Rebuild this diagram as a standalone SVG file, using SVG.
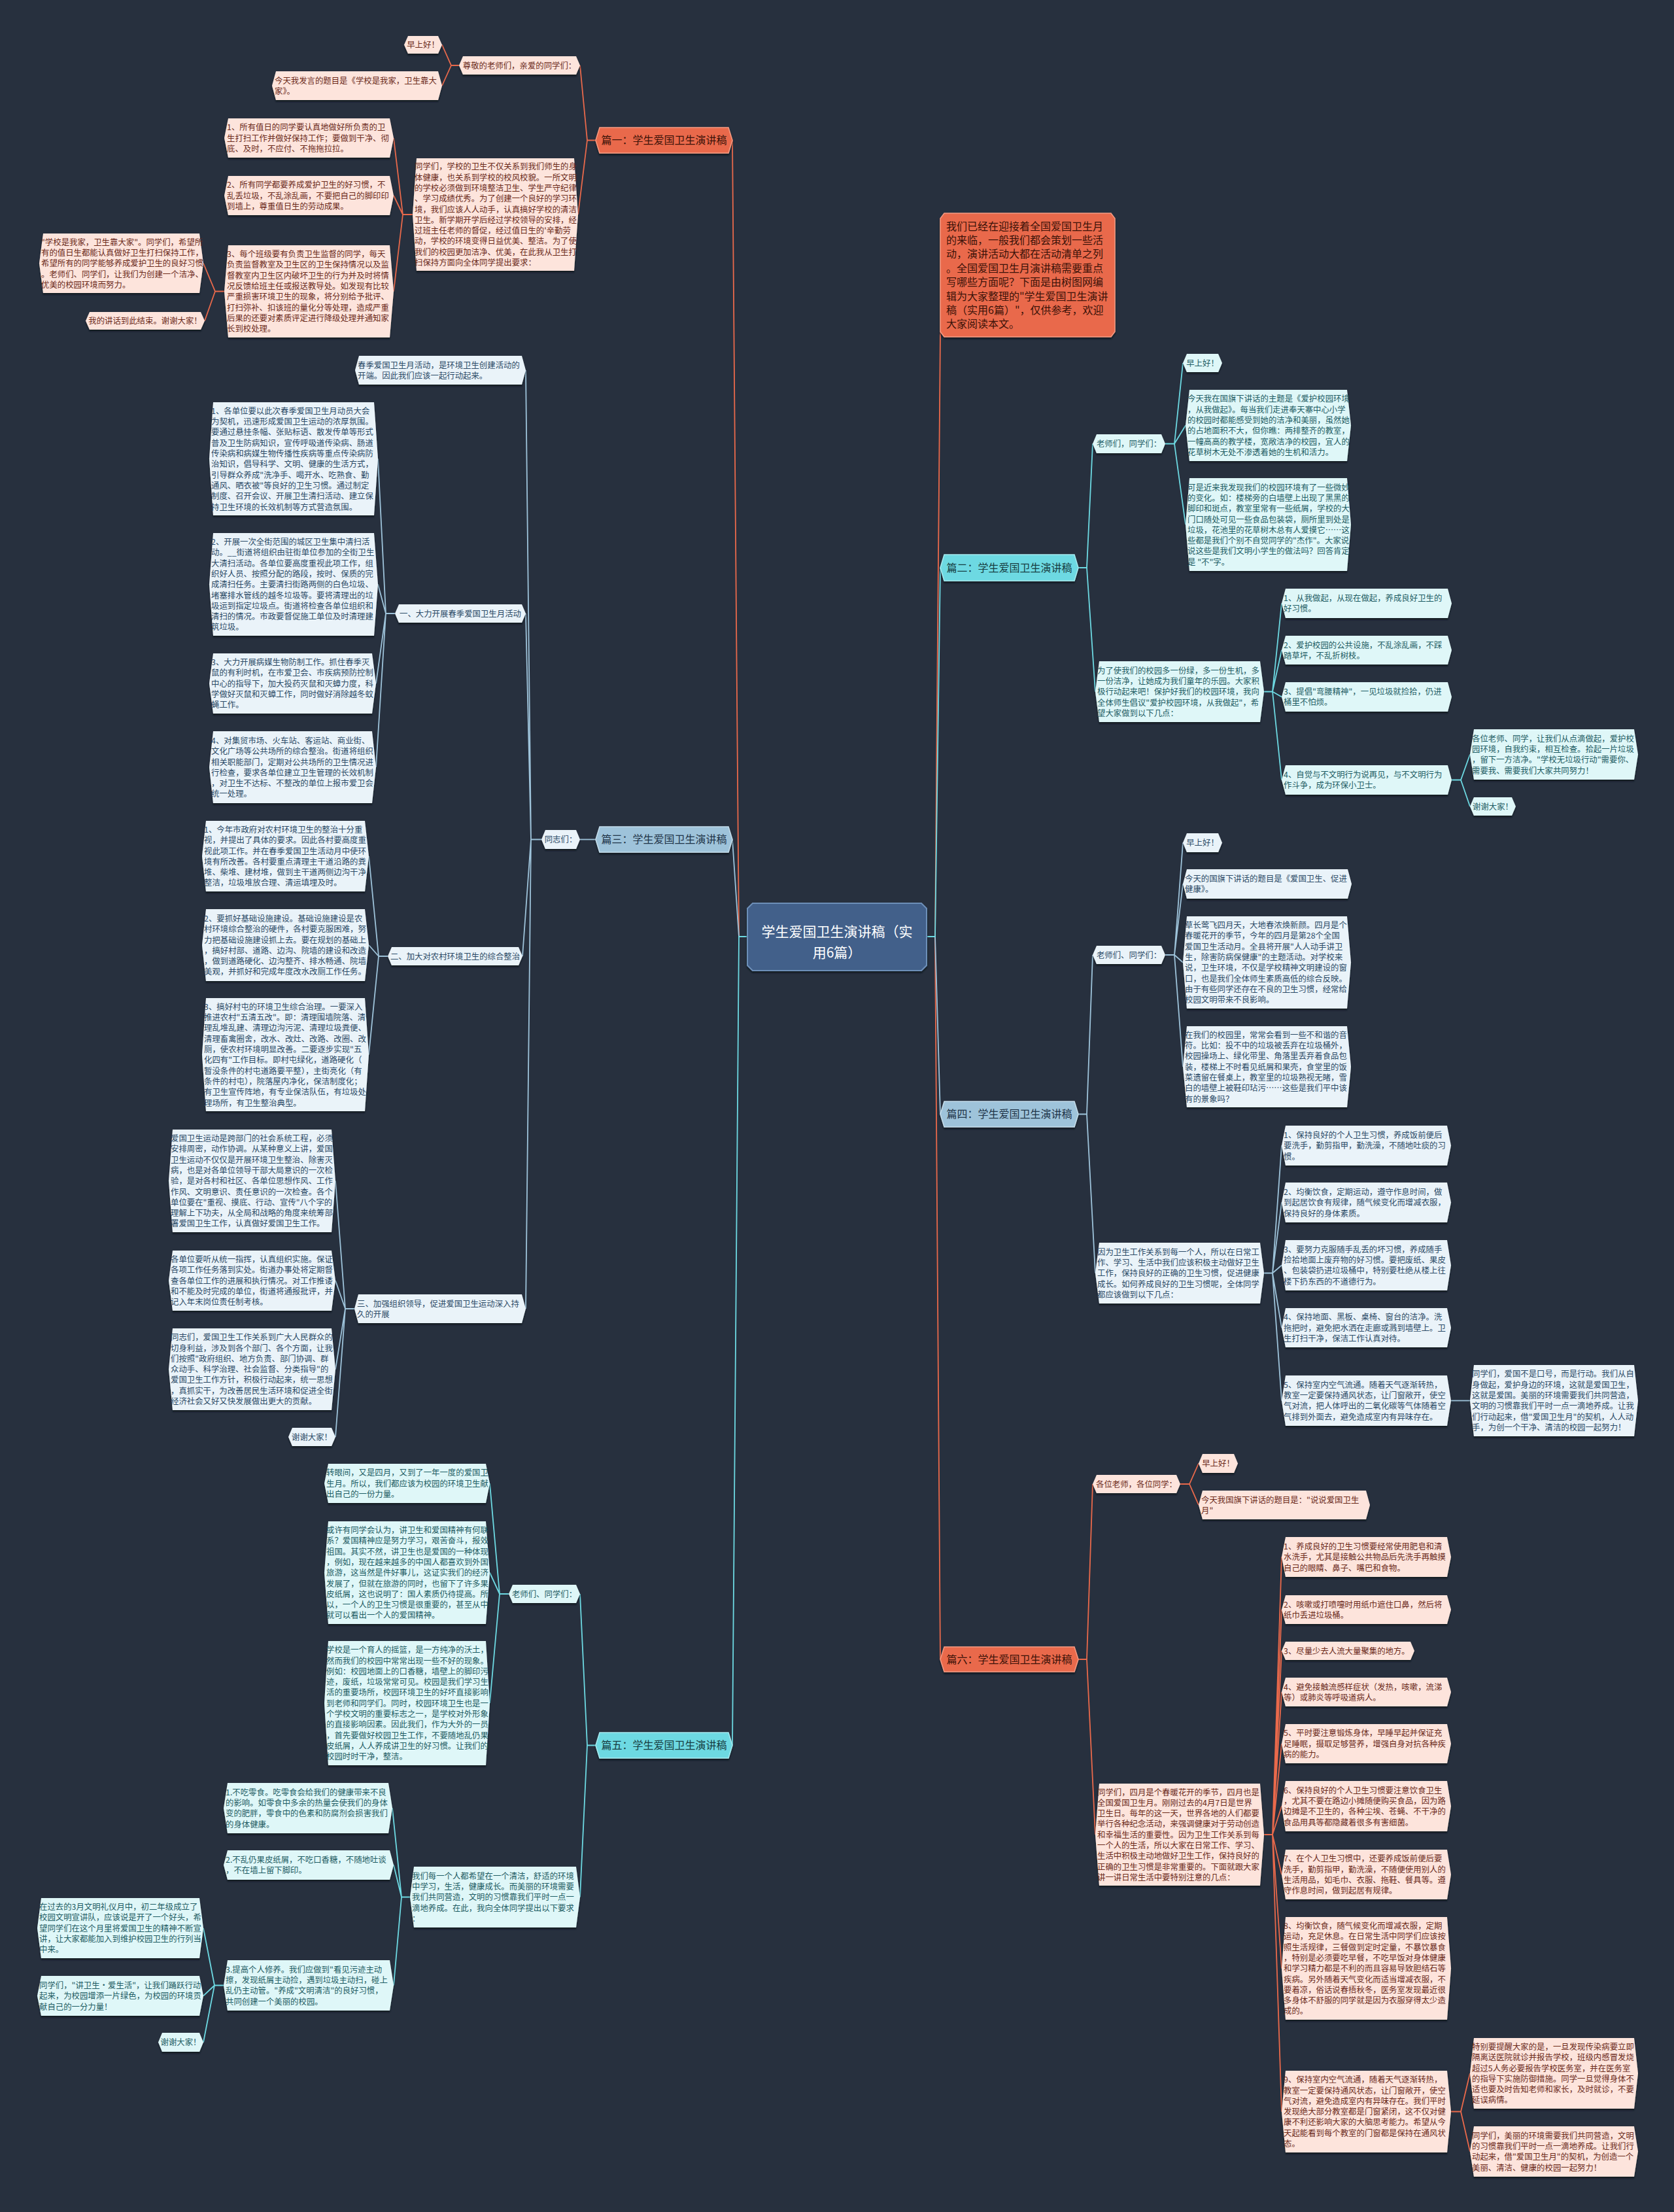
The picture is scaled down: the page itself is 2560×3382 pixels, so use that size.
<svg xmlns="http://www.w3.org/2000/svg" width="2560" height="3382" viewBox="0 0 2560 3382">
<defs>
<filter id="sh" x="-5%" y="-10%" width="110%" height="130%"><feDropShadow dx="0" dy="2.5" stdDeviation="1.2" flood-color="#0e131a" flood-opacity="0.9"/></filter>
<style>
text{font-family:'Noto Sans CJK SC','Noto Sans',sans-serif;}
.t{font-size:12.4px;}
.m{text-anchor:middle;}
.lo{fill:#fde4dc;filter:url(#sh);}
.lb{fill:#eaf3f9;filter:url(#sh);}
.lc{fill:#dff7f8;filter:url(#sh);}
.to{fill:#6b2a1a;}
.tb{fill:#2b4a66;}
.tcy{fill:#1d5c63;}
.bo{fill:#e9694b;stroke:#f59a82;stroke-width:1.5;filter:url(#sh);}
.bb{fill:#9ec3da;stroke:#c4dcea;stroke-width:1.5;filter:url(#sh);}
.bc{fill:#6dd9e2;stroke:#a6eaf0;stroke-width:1.5;filter:url(#sh);}
.bt{font-size:16px;text-anchor:middle;}
.bto{fill:#3b1208;}
.btb{fill:#1e3347;}
.btc{fill:#173c40;}
.co{fill:none;stroke:#e9694b;stroke-width:1.8;}
.cb{fill:none;stroke:#9ec3da;stroke-width:1.8;}
.cc{fill:none;stroke:#6dd9e2;stroke-width:1.8;}
</style>
</defs>
<rect x="0" y="0" width="2560" height="3382" fill="#27303e"/>

<g id="connectors">
<!-- orange -->
<path class="co" d="M1143,1432 H1130 L1120,214.5"/>
<path class="co" d="M1417,1432 H1430 L1438,507"/>
<path class="co" d="M1417,1432 H1430 L1438,2537"/>
<path class="co" d="M911,214.5 H898 L887,100 M898,214.5 L884,328"/>
<path class="co" d="M702,100 H690 L676,68.5 M690,100 L676,131"/>
<path class="co" d="M631,328 H616 L602,211 M616,328 L602,299 M616,328 L602,445.5"/>
<path class="co" d="M343,445.5 H329 L311,402.5 M329,445.5 L313,490.5"/>
<path class="co" d="M1649,2537 H1662 L1671,2269 M1662,2537 L1675,2805"/>
<path class="co" d="M1805,2269 H1819 L1833,2237.5 M1819,2269 L1833,2301"/>
<path class="co" d="M1933,2805 H1946 L1960,2380.5 M1946,2805 L1960,2461 M1946,2805 L1960,2524 M1946,2805 L1960,2587 M1946,2805 L1960,2666 M1946,2805 L1960,2761.5 M1946,2805 L1960,2866 M1946,2805 L1960,3009.5 M1946,2805 L1960,3228.5"/>
<path class="co" d="M2219,3228.5 H2234 L2248,3170 M2234,3228.5 L2248,3289.5"/>
<!-- blue -->
<path class="cb" d="M1143,1432 H1130 L1120,1283.5"/>
<path class="cb" d="M1417,1432 H1430 L1438,1703.5"/>
<path class="cb" d="M911,1283.5 H887"/>
<path class="cb" d="M828,1283.5 H812 L804,566 M812,1283.5 L804,938 M812,1283.5 L799,1462 M812,1283.5 L804,2001"/>
<path class="cb" d="M604,938 H590 L578,701.5 M590,938 L578,893.5 M590,938 L575,1045 M590,938 L575,1173"/>
<path class="cb" d="M593,1462 H579 L564,1309 M579,1462 L564,1445 M579,1462 L564,1612.5"/>
<path class="cb" d="M542,2001 H528 L513,1805.5 M528,2001 L513,1958 M528,2001 L513,2093.5 M528,2001 L513,2197"/>
<path class="cb" d="M1649,1703.5 H1662 L1671,1460 M1662,1703.5 L1675,1946.5"/>
<path class="cb" d="M1782,1460 H1796 L1809,1288.5 M1796,1460 L1809,1351.5 M1796,1460 L1809,1471.5 M1796,1460 L1809,1631"/>
<path class="cb" d="M1933,1946.5 H1946 L1960,1751.5 M1946,1946.5 L1960,1838.5 M1946,1946.5 L1960,1934.5 M1946,1946.5 L1960,2030 M1946,1946.5 L1960,2141.5"/>
<path class="cb" d="M2219,2141.5 H2248"/>
<!-- cyan -->
<path class="cc" d="M1143,1432 H1130 L1120,2668.5"/>
<path class="cc" d="M1417,1432 H1430 L1438,868"/>
<path class="cc" d="M911,2668.5 H898 L887,2437 M898,2668.5 L887,2900.5"/>
<path class="cc" d="M778,2437 H764 L749,2268 M764,2437 L749,2404.5 M764,2437 L749,2604"/>
<path class="cc" d="M627,2900.5 H614 L600,2764.5 M614,2900.5 L602,2851.5 M614,2900.5 L602,3035.5"/>
<path class="cc" d="M342,3035.5 H328 L311,2948 M328,3035.5 L311,3051.5 M328,3035.5 L311,3122.5"/>
<path class="cc" d="M1649,868 H1662 L1671,678.5 M1662,868 L1675,1057.5"/>
<path class="cc" d="M1782,678.5 H1796 L1809,555 M1796,678.5 L1813,650.5 M1796,678.5 L1813,802"/>
<path class="cc" d="M1933,1057.5 H1946 L1960,922.5 M1946,1057.5 L1960,994 M1946,1057.5 L1960,1065.5 M1946,1057.5 L1960,1192.5"/>
<path class="cc" d="M2220,1192.5 H2234 L2248,1153.5 M2234,1192.5 L2248,1233"/>
</g>

<g id="center">
<polygon points="1151,1381 1409,1381 1417,1389 1417,1476 1409,1484 1151,1484 1143,1476 1143,1389" fill="#42618a" stroke="#6d8fb8" stroke-width="2" filter="url(#sh)"/>
<text x="1280" y="1431.7" font-size="21" fill="#ffffff" text-anchor="middle">学生爱国卫生演讲稿（实<tspan x="1280" dy="32">用6篇）</tspan></text>
</g>

<!-- ===== 篇一 ===== -->
<g id="branch1">
<polygon class="bo" points="917,195 1114,195 1120,214.5 1114,234 917,234 911,214.5"/>
<text class="bt bto" x="1015.5" y="220.4">篇一：学生爱国卫生演讲稿</text>
</g>
<g id="b1-hub">
<polygon class="lo" points="708,86 881,86 887,100 881,114 708,114 702,100"/>
<text class="t m to" x="794.5" y="104.7">尊敬的老师们，亲爱的同学们：</text>
</g>
<g id="b1-hello">
<polygon class="lo" points="624,55 670,55 676,68.5 670,82 624,82 618,68.5"/>
<text class="t m to" x="647" y="73.2">早上好！</text>
</g>
<g id="b1-topic">
<polygon class="lo" points="422,109 670,109 676,131 670,153 422,153 416,131"/>
<text class="t to" x="420" y="127.5">今天我发言的题目是《学校是我家，卫生靠大<tspan x="420" dy="16.3">家》。</tspan></text>
</g>
<g id="b1-mid">
<polygon class="lo" points="637,242 878,242 884,328 878,414 637,414 631,328"/>
<text class="t to" x="634" y="259.3">同学们，学校的卫生不仅关系到我们师生的身<tspan x="634" dy="16.3">体健康，也关系到学校的校风校貌。一所文明</tspan><tspan x="634" dy="16.3">的学校必须做到环境整洁卫生、学生严守纪律</tspan><tspan x="634" dy="16.3">、学习成绩优秀。为了创建一个良好的学习环</tspan><tspan x="634" dy="16.3">境，我们应该人人动手，认真搞好学校的清洁</tspan><tspan x="634" dy="16.3">卫生。新学期开学后经过学校领导的安排，经</tspan><tspan x="634" dy="16.3">过班主任老师的督促，经过值日生的'辛勤劳</tspan><tspan x="634" dy="16.3">动，学校的环境变得日益优美、整洁。为了使</tspan><tspan x="634" dy="16.3">我们的校园更加洁净、优美，在此我从卫生打</tspan><tspan x="634" dy="16.3">扫保持方面向全体同学提出要求：</tspan></text>
</g>
<g id="b1-r1">
<polygon class="lo" points="349,181 596,181 602,211 596,241 349,241 343,211"/>
<text class="t to" x="347" y="199.4">1、所有值日的同学要认真地做好所负责的卫<tspan x="347" dy="16.3">生打扫工作并做好保持工作；要做到干净、彻</tspan><tspan x="347" dy="16.3">底、及时，不应付、不拖拖拉拉。</tspan></text>
</g>
<g id="b1-r2">
<polygon class="lo" points="349,269 596,269 602,299 596,329 349,329 343,299"/>
<text class="t to" x="347" y="287.4">2、所有同学都要养成爱护卫生的好习惯，不<tspan x="347" dy="16.3">乱丢垃圾，不乱涂乱画，不要把自己的脚印印</tspan><tspan x="347" dy="16.3">到墙上，尊重值日生的劳动成果。</tspan></text>
</g>
<g id="b1-r3">
<polygon class="lo" points="349,375 596,375 602,445.5 596,516 349,516 343,445.5"/>
<text class="t to" x="347" y="393.1">3、每个班级要有负责卫生监督的同学，每天<tspan x="347" dy="16.3">负责监督教室及卫生区的卫生保持情况以及监</tspan><tspan x="347" dy="16.3">督教室内卫生区内破坏卫生的行为并及时将情</tspan><tspan x="347" dy="16.3">况反馈给班主任或报送教导处。如发现有比较</tspan><tspan x="347" dy="16.3">严重损害环境卫生的现象，将分别给予批评、</tspan><tspan x="347" dy="16.3">打扫弥补、扣该班的量化分等处理，造成严重</tspan><tspan x="347" dy="16.3">后果的还要对素质评定进行降级处理并通知家</tspan><tspan x="347" dy="16.3">长到校处理。</tspan></text>
</g>
<g id="b1-sum">
<polygon class="lo" points="66,357 305,357 311,402.5 305,448 66,448 60,402.5"/>
<text class="t to" x="63" y="374.6">"学校是我家，卫生靠大家"。同学们，希望所<tspan x="63" dy="16.3">有的值日生都能认真做好卫生打扫保持工作，</tspan><tspan x="63" dy="16.3">希望所有的同学能够养成爱护卫生的良好习惯</tspan><tspan x="63" dy="16.3">。老师们、同学们，让我们为创建一个洁净、</tspan><tspan x="63" dy="16.3">优美的校园环境而努力。</tspan></text>
</g>
<g id="b1-bye">
<polygon class="lo" points="137,477 307,477 313,490.5 307,504 137,504 131,490.5"/>
<text class="t m to" x="222" y="495.2">我的讲话到此结束。谢谢大家！</text>
</g>

<!-- ===== 篇三 ===== -->
<g id="branch3">
<polygon class="bb" points="917,1264 1114,1264 1120,1283.5 1114,1303 917,1303 911,1283.5"/>
<text class="bt btb" x="1015.5" y="1289.4">篇三：学生爱国卫生演讲稿</text>
</g>
<g id="b3-hub">
<polygon class="lb" points="834,1269 881,1269 887,1283.5 881,1298 834,1298 828,1283.5"/>
<text class="t m tb" x="857.5" y="1288.2">同志们：</text>
</g>
<g id="b3-spring">
<polygon class="lb" points="549,544 798,544 804,566 798,588 549,588 543,566"/>
<text class="t tb" x="547" y="562.5">春季爱国卫生月活动，是环境卫生创建活动的<tspan x="547" dy="16.3">开端。因此我们应该一起行动起来。</tspan></text>
</g>
<g id="b3-s1">
<polygon class="lb" points="610,924 798,924 804,938 798,952 610,952 604,938"/>
<text class="t m tb" x="704" y="942.7">一、大力开展春季爱国卫生月活动</text>
</g>
<g id="b3-a1">
<polygon class="lb" points="326,615 572,615 578,701.5 572,788 326,788 320,701.5"/>
<text class="t tb" x="323" y="632.8">1、各单位要以此次春季爱国卫生月动员大会<tspan x="323" dy="16.3">为契机，迅速形成爱国卫生运动的浓厚氛围。</tspan><tspan x="323" dy="16.3">要通过悬挂条幅、张贴标语、散发传单等形式</tspan><tspan x="323" dy="16.3">普及卫生防病知识，宣传呼吸道传染病、肠道</tspan><tspan x="323" dy="16.3">传染病和病媒生物传播性疾病等重点传染病防</tspan><tspan x="323" dy="16.3">治知识，倡导科学、文明、健康的生活方式，</tspan><tspan x="323" dy="16.3">引导群众养成"洗净手、喝开水、吃熟食、勤</tspan><tspan x="323" dy="16.3">通风、晒衣被"等良好的卫生习惯。通过制定</tspan><tspan x="323" dy="16.3">制度、召开会议、开展卫生清扫活动、建立保</tspan><tspan x="323" dy="16.3">持卫生环境的长效机制等方式营造氛围。</tspan></text>
</g>
<g id="b3-a2">
<polygon class="lb" points="326,815 572,815 578,893.5 572,972 326,972 320,893.5"/>
<text class="t tb" x="323" y="833">2、开展一次全街范围的城区卫生集中清扫活<tspan x="323" dy="16.3">动。__街道将组织由驻街单位参加的全街卫生</tspan><tspan x="323" dy="16.3">大清扫活动。各单位要高度重视此项工作，组</tspan><tspan x="323" dy="16.3">织好人员、按照分配的路段，按时、保质的完</tspan><tspan x="323" dy="16.3">成清扫任务。主要清扫街路两侧的白色垃圾、</tspan><tspan x="323" dy="16.3">堵塞排水管线的越冬垃圾等。要将清理出的垃</tspan><tspan x="323" dy="16.3">圾运到指定垃圾点。街道将检查各单位组织和</tspan><tspan x="323" dy="16.3">清扫的情况。市政要督促施工单位及时清理建</tspan><tspan x="323" dy="16.3">筑垃圾。</tspan></text>
</g>
<g id="b3-a3">
<polygon class="lb" points="326,999 569,999 575,1045 569,1091 326,1091 320,1045"/>
<text class="t tb" x="323" y="1017">3、大力开展病媒生物防制工作。抓住春季灭<tspan x="323" dy="16.3">鼠的有利时机，在市爱卫会、市疾病预防控制</tspan><tspan x="323" dy="16.3">中心的指导下，加大投药灭鼠和灭蟑力度，科</tspan><tspan x="323" dy="16.3">学做好灭鼠和灭蟑工作，同时做好消除越冬蚊</tspan><tspan x="323" dy="16.3">蝇工作。</tspan></text>
</g>
<g id="b3-a4">
<polygon class="lb" points="326,1118 569,1118 575,1173 569,1228 326,1228 320,1173"/>
<text class="t tb" x="323" y="1136.9">4、对集贸市场、火车站、客运站、商业街、<tspan x="323" dy="16.3">文化广场等公共场所的综合整治。街道将组织</tspan><tspan x="323" dy="16.3">相关职能部门，定期对公共场所的卫生情况进</tspan><tspan x="323" dy="16.3">行检查，要求各单位建立卫生管理的长效机制</tspan><tspan x="323" dy="16.3">，对卫生不达标、不整改的单位上报市爱卫会</tspan><tspan x="323" dy="16.3">统一处理。</tspan></text>
</g>
<g id="b3-s2">
<polygon class="lb" points="599,1448 793,1448 799,1462 793,1476 599,1476 593,1462"/>
<text class="t m tb" x="696" y="1466.7">二、加大对农村环境卫生的综合整治</text>
</g>
<g id="b3-b1">
<polygon class="lb" points="315,1255 558,1255 564,1309 558,1363 315,1363 309,1309"/>
<text class="t tb" x="312" y="1272.9">1、今年市政府对农村环境卫生的整治十分重<tspan x="312" dy="16.3">视，并提出了具体的要求。因此各村要高度重</tspan><tspan x="312" dy="16.3">视此项工作。并在春季爱国卫生活动月中使环</tspan><tspan x="312" dy="16.3">境有所改善。各村要重点清理主干道沿路的粪</tspan><tspan x="312" dy="16.3">堆、柴堆、建材堆，做到主干道两侧边沟干净</tspan><tspan x="312" dy="16.3">整洁，垃圾堆放合理、清运填埋及时。</tspan></text>
</g>
<g id="b3-b2">
<polygon class="lb" points="315,1390 558,1390 564,1445 558,1500 315,1500 309,1445"/>
<text class="t tb" x="312" y="1408.9">2、要抓好基础设施建设。基础设施建设是农<tspan x="312" dy="16.3">村环境综合整治的硬件，各村要克服困难，努</tspan><tspan x="312" dy="16.3">力把基础设施建设抓上去。要在规划的基础上</tspan><tspan x="312" dy="16.3">，搞好村部、道路、边沟、院墙的建设和改造</tspan><tspan x="312" dy="16.3">，做到道路硬化、边沟整齐、排水畅通、院墙</tspan><tspan x="312" dy="16.3">美观，并抓好和完成年度改水改厕工作任务。</tspan></text>
</g>
<g id="b3-b3">
<polygon class="lb" points="315,1526 558,1526 564,1612.5 558,1699 315,1699 309,1612.5"/>
<text class="t tb" x="312" y="1543.8">3、搞好村屯的环境卫生综合治理。一要深入<tspan x="312" dy="16.3">推进农村"五清五改"。即：清理围墙院落、清</tspan><tspan x="312" dy="16.3">理乱堆乱建、清理边沟污泥、清理垃圾粪便、</tspan><tspan x="312" dy="16.3">清理畜禽圈舍，改水、改灶、改路、改圈、改</tspan><tspan x="312" dy="16.3">厕，使农村环境明显改善。二要逐步实现"五</tspan><tspan x="312" dy="16.3">化四有"工作目标。即村屯绿化，道路硬化（</tspan><tspan x="312" dy="16.3">暂没条件的村屯道路要平整），主街亮化（有</tspan><tspan x="312" dy="16.3">条件的村屯），院落屋内净化，保洁制度化；</tspan><tspan x="312" dy="16.3">有卫生宣传阵地，有专业保洁队伍，有垃圾处</tspan><tspan x="312" dy="16.3">理场所，有卫生整治典型。</tspan></text>
</g>
<g id="b3-s3">
<polygon class="lb" points="548,1979 798,1979 804,2001 798,2023 548,2023 542,2001"/>
<text class="t tb" x="546" y="1997.5">三、加强组织领导，促进爱国卫生运动深入持<tspan x="546" dy="16.3">久的开展</tspan></text>
</g>
<g id="b3-c1">
<polygon class="lb" points="264,1727 507,1727 513,1805.5 507,1884 264,1884 258,1805.5"/>
<text class="t tb" x="261" y="1745">爱国卫生运动是跨部门的社会系统工程，必须<tspan x="261" dy="16.3">安排周密，动作协调。从某种意义上讲，爱国</tspan><tspan x="261" dy="16.3">卫生运动不仅仅是开展环境卫生整治、除害灭</tspan><tspan x="261" dy="16.3">病，也是对各单位领导干部大局意识的一次检</tspan><tspan x="261" dy="16.3">验，是对各村和社区、各单位思想作风、工作</tspan><tspan x="261" dy="16.3">作风、文明意识、责任意识的一次检查。各个</tspan><tspan x="261" dy="16.3">单位要在"重视、摸底、行动、宣传"八个字的</tspan><tspan x="261" dy="16.3">理解上下功夫，从全局和战略的角度来统筹部</tspan><tspan x="261" dy="16.3">署爱国卫生工作，认真做好爱国卫生工作。</tspan></text>
</g>
<g id="b3-c2">
<polygon class="lb" points="264,1912 507,1912 513,1958 507,2004 264,2004 258,1958"/>
<text class="t tb" x="261" y="1930">各单位要听从统一指挥，认真组织实施。保证<tspan x="261" dy="16.3">各项工作任务落到实处。街道办事处将定期督</tspan><tspan x="261" dy="16.3">查各单位工作的进展和执行情况。对工作推诿</tspan><tspan x="261" dy="16.3">和不能及时完成的单位，街道将通报批评，并</tspan><tspan x="261" dy="16.3">记入年末岗位责任制考核。</tspan></text>
</g>
<g id="b3-c3">
<polygon class="lb" points="264,2031 507,2031 513,2093.5 507,2156 264,2156 258,2093.5"/>
<text class="t tb" x="261" y="2049.2">同志们，爱国卫生工作关系到广大人民群众的<tspan x="261" dy="16.3">切身利益，涉及到各个部门、各个方面，让我</tspan><tspan x="261" dy="16.3">们按照"政府组织、地方负责、部门协调、群</tspan><tspan x="261" dy="16.3">众动手、科学治理、社会监督、分类指导"的</tspan><tspan x="261" dy="16.3">爱国卫生工作方针，积极行动起来，统一思想</tspan><tspan x="261" dy="16.3">，真抓实干，为改善居民生活环境和促进全街</tspan><tspan x="261" dy="16.3">经济社会又好又快发展做出更大的贡献。</tspan></text>
</g>
<g id="b3-c4">
<polygon class="lb" points="447,2183 507,2183 513,2197 507,2211 447,2211 441,2197"/>
<text class="t m tb" x="477" y="2201.7">谢谢大家！</text>
</g>

<!-- ===== 篇五 ===== -->
<g id="branch5">
<polygon class="bc" points="917,2649 1114,2649 1120,2668.5 1114,2688 917,2688 911,2668.5"/>
<text class="bt btc" x="1015.5" y="2674.4">篇五：学生爱国卫生演讲稿</text>
</g>
<g id="b5-hub">
<polygon class="lc" points="784,2423 881,2423 887,2437 881,2451 784,2451 778,2437"/>
<text class="t m tcy" x="832.5" y="2441.7">老师们、同学们：</text>
</g>
<g id="b5-d1">
<polygon class="lc" points="502,2238 743,2238 749,2268 743,2298 502,2298 496,2268"/>
<text class="t tcy" x="499" y="2256.4">转眼间，又是四月，又到了一年一度的爱国卫<tspan x="499" dy="16.3">生月。所以，我们都应该为校园的环境卫生献</tspan><tspan x="499" dy="16.3">出自己的一份力量。</tspan></text>
</g>
<g id="b5-d2">
<polygon class="lc" points="502,2326 743,2326 749,2404.5 743,2483 502,2483 496,2404.5"/>
<text class="t tcy" x="499" y="2344">或许有同学会认为，讲卫生和爱国精神有何联<tspan x="499" dy="16.3">系？爱国精神应是努力学习，艰苦奋斗，报效</tspan><tspan x="499" dy="16.3">祖国。其实不然，讲卫生也是爱国的一种体现</tspan><tspan x="499" dy="16.3">，例如，现在越来越多的中国人都喜欢到外国</tspan><tspan x="499" dy="16.3">旅游，这当然是件好事儿，这证实我们的经济</tspan><tspan x="499" dy="16.3">发展了，但就在旅游的同时，也留下了许多果</tspan><tspan x="499" dy="16.3">皮纸屑，这也说明了：国人素质仍待提高。所</tspan><tspan x="499" dy="16.3">以，一个人的卫生习惯是很重要的，甚至从中</tspan><tspan x="499" dy="16.3">就可以看出一个人的爱国精神。</tspan></text>
</g>
<g id="b5-d3">
<polygon class="lc" points="502,2509 743,2509 749,2604 743,2699 502,2699 496,2604"/>
<text class="t tcy" x="499" y="2527.2">学校是一个育人的摇篮，是一方纯净的沃土，<tspan x="499" dy="16.3">然而我们的校园中常常出现一些不好的现象。</tspan><tspan x="499" dy="16.3">例如：校园地面上的口香糖，墙壁上的脚印污</tspan><tspan x="499" dy="16.3">迹，废纸，垃圾常常可见。校园是我们学习生</tspan><tspan x="499" dy="16.3">活的重要场所，校园环境卫生的好坏直接影响</tspan><tspan x="499" dy="16.3">到老师和同学们。同时，校园环境卫生也是一</tspan><tspan x="499" dy="16.3">个学校文明的重要标志之一，是学校对外形象</tspan><tspan x="499" dy="16.3">的直接影响因素。因此我们，作为大外的一员</tspan><tspan x="499" dy="16.3">，首先要做好校园卫生工作，不要随地乱仍果</tspan><tspan x="499" dy="16.3">皮纸屑，人人养成讲卫生的好习惯。让我们的</tspan><tspan x="499" dy="16.3">校园时时干净，整洁。</tspan></text>
</g>
<g id="b5-mid">
<polygon class="lc" points="633,2854 881,2854 887,2900.5 881,2947 633,2947 627,2900.5"/>
<text class="t tcy" x="630" y="2872.6">我们每一个人都希望在一个清洁，舒适的环境<tspan x="630" dy="16.3">中学习，生活，健康成长。而美丽的环境需要</tspan><tspan x="630" dy="16.3">我们共同营造，文明的习惯靠我们平时一点一</tspan><tspan x="630" dy="16.3">滴地养成。在此，我向全体同学提出以下要求</tspan><tspan x="630" dy="16.3">：</tspan></text>
</g>
<g id="b5-e1">
<polygon class="lc" points="348,2726 594,2726 600,2764.5 594,2803 348,2803 342,2764.5"/>
<text class="t tcy" x="345" y="2744.7">1.不吃零食。吃零食会给我们的健康带来不良<tspan x="345" dy="16.3">的影响。如零食中多余的热量会使我们的身体</tspan><tspan x="345" dy="16.3">变的肥胖，零食中的色素和防腐剂会损害我们</tspan><tspan x="345" dy="16.3">的身体健康。</tspan></text>
</g>
<g id="b5-e2">
<polygon class="lc" points="348,2829 596,2829 602,2851.5 596,2874 348,2874 342,2851.5"/>
<text class="t tcy" x="345" y="2848">2.不乱仍果皮纸屑，不吃口香糖，不随地吐谈<tspan x="345" dy="16.3">，不在墙上留下脚印。</tspan></text>
</g>
<g id="b5-e3">
<polygon class="lc" points="348,2997 596,2997 602,3035.5 596,3074 348,3074 342,3035.5"/>
<text class="t tcy" x="345" y="3015.7">3.提高个人修养。我们应做到"看见污迹主动<tspan x="345" dy="16.3">擦，发现纸屑主动捡，遇到垃圾主动扫，碰上</tspan><tspan x="345" dy="16.3">乱仍主动管。"养成"文明清洁"的良好习惯，</tspan><tspan x="345" dy="16.3">共同创建一个美丽的校园。</tspan></text>
</g>
<g id="b5-f1">
<polygon class="lc" points="63,2902 305,2902 311,2948 305,2994 63,2994 57,2948"/>
<text class="t tcy" x="60" y="2920">在过去的3月文明礼仪月中，初二年级成立了<tspan x="60" dy="16.3">校园文明宣讲队，应该说是开了一个好头，希</tspan><tspan x="60" dy="16.3">望同学们在这个月里将爱国卫生的精神不断宣</tspan><tspan x="60" dy="16.3">讲，让大家都能加入到维护校园卫生的行列当</tspan><tspan x="60" dy="16.3">中来。</tspan></text>
</g>
<g id="b5-f2">
<polygon class="lc" points="63,3021 305,3021 311,3051.5 305,3082 63,3082 57,3051.5"/>
<text class="t tcy" x="60" y="3039.9">同学们，"讲卫生·爱生活"，让我们踊跃行动<tspan x="60" dy="16.3">起来，为校园增添一片绿色，为校园的环境贡</tspan><tspan x="60" dy="16.3">献自己的一分力量！</tspan></text>
</g>
<g id="b5-f3">
<polygon class="lc" points="248,3108 305,3108 311,3122.5 305,3137 248,3137 242,3122.5"/>
<text class="t m tcy" x="276.5" y="3127.2">谢谢大家！</text>
</g>

<!-- ===== intro ===== -->
<g id="intro">
<polygon class="bo" points="1444,326 1699,326 1705,334 1705,507 1699,515 1444,515 1438,507 1438,334"/>
<text font-size="16" class="bto" x="1447" y="351.5">我们已经在迎接着全国爱国卫生月<tspan x="1447" dy="21.4">的来临，一般我们都会策划一些活</tspan><tspan x="1447" dy="21.4">动，演讲活动大都在活动清单之列</tspan><tspan x="1447" dy="21.4">。全国爱国卫生月演讲稿需要重点</tspan><tspan x="1447" dy="21.4">写哪些方面呢？下面是由树图网编</tspan><tspan x="1447" dy="21.4">辑为大家整理的"学生爱国卫生演讲</tspan><tspan x="1447" dy="21.4">稿（实用6篇）"，仅供参考，欢迎</tspan><tspan x="1447" dy="21.4">大家阅读本文。</tspan></text>
</g>

<!-- ===== 篇二 ===== -->
<g id="branch2">
<polygon class="bc" points="1444,848 1643,848 1649,868 1643,888 1444,888 1438,868"/>
<text class="bt btc" x="1543.5" y="873.9">篇二：学生爱国卫生演讲稿</text>
</g>
<g id="b2-hub">
<polygon class="lc" points="1677,664 1776,664 1782,678.5 1776,693 1677,693 1671,678.5"/>
<text class="t m tcy" x="1726.5" y="683.2">老师们，同学们：</text>
</g>
<g id="b2-g1">
<polygon class="lc" points="1815,541 1863,541 1869,555 1863,569 1815,569 1809,555"/>
<text class="t m tcy" x="1839" y="559.7">早上好！</text>
</g>
<g id="b2-g2">
<polygon class="lc" points="1819,596 2060,596 2066,650.5 2060,705 1819,705 1813,650.5"/>
<text class="t tcy" x="1816" y="614.4">今天我在国旗下讲话的主题是《爱护校园环境<tspan x="1816" dy="16.3">，从我做起》。每当我们走进奉天寨中心小学</tspan><tspan x="1816" dy="16.3">的校园时都能感受到她的洁净和美丽，虽然她</tspan><tspan x="1816" dy="16.3">的占地面积不大，但你瞧：两排整齐的教室，</tspan><tspan x="1816" dy="16.3">一幢高高的教学楼，宽敞洁净的校园，宜人的</tspan><tspan x="1816" dy="16.3">花草树木无处不渗透着她的生机和活力。</tspan></text>
</g>
<g id="b2-g3">
<polygon class="lc" points="1819,731 2060,731 2066,802 2060,873 1819,873 1813,802"/>
<text class="t tcy" x="1816" y="749.6">可是近来我发现我们的校园环境有了一些微妙<tspan x="1816" dy="16.3">的变化。如：楼梯旁的白墙壁上出现了黑黑的</tspan><tspan x="1816" dy="16.3">脚印和斑点，教室里常有一些纸屑，学校的大</tspan><tspan x="1816" dy="16.3">门口随处可见一些食品包装袋，厕所里到处是</tspan><tspan x="1816" dy="16.3">垃圾，花池里的花草树木总有人爱摸它……这</tspan><tspan x="1816" dy="16.3">些都是我们个别不自觉同学的"杰作"。大家说</tspan><tspan x="1816" dy="16.3">说这些是我们文明小学生的做法吗？回答肯定</tspan><tspan x="1816" dy="16.3">是 "不"字。</tspan></text>
</g>
<g id="b2-mid">
<polygon class="lc" points="1681,1011 1927,1011 1933,1057.5 1927,1104 1681,1104 1675,1057.5"/>
<text class="t tcy" x="1678" y="1029.6">为了使我们的校园多一份绿，多一份生机，多<tspan x="1678" dy="16.3">一份洁净，让她成为我们童年的乐园。大家积</tspan><tspan x="1678" dy="16.3">极行动起来吧！保护好我们的校园环境，我向</tspan><tspan x="1678" dy="16.3">全体师生倡议"爱护校园环境，从我做起"，希</tspan><tspan x="1678" dy="16.3">望大家做到以下几点：</tspan></text>
</g>
<g id="b2-h1">
<polygon class="lc" points="1966,900 2214,900 2220,922.5 2214,945 1966,945 1960,922.5"/>
<text class="t tcy" x="1963" y="919">1、从我做起，从现在做起，养成良好卫生的<tspan x="1963" dy="16.3">好习惯。</tspan></text>
</g>
<g id="b2-h2">
<polygon class="lc" points="1966,972 2214,972 2220,994 2214,1016 1966,1016 1960,994"/>
<text class="t tcy" x="1963" y="990.5">2、爱护校园的公共设施，不乱涂乱画，不踩<tspan x="1963" dy="16.3">踏草坪，不乱折树枝。</tspan></text>
</g>
<g id="b2-h3">
<polygon class="lc" points="1966,1043 2214,1043 2220,1065.5 2214,1088 1966,1088 1960,1065.5"/>
<text class="t tcy" x="1963" y="1062">3、提倡"弯腰精神"，一见垃圾就捡拾，仍进<tspan x="1963" dy="16.3">桶里不怕烦。</tspan></text>
</g>
<g id="b2-h4">
<polygon class="lc" points="1966,1170 2214,1170 2220,1192.5 2214,1215 1966,1215 1960,1192.5"/>
<text class="t tcy" x="1963" y="1189">4、自觉与不文明行为说再见，与不文明行为<tspan x="1963" dy="16.3">作斗争，成为环保小卫士。</tspan></text>
</g>
<g id="b2-i1">
<polygon class="lc" points="2254,1115 2499,1115 2505,1153.5 2499,1192 2254,1192 2248,1153.5"/>
<text class="t tcy" x="2251" y="1133.7">各位老师、同学，让我们从点滴做起，爱护校<tspan x="2251" dy="16.3">园环境，自我约束，相互检查。拾起一片垃圾</tspan><tspan x="2251" dy="16.3">，留下一方洁净。"学校无垃圾行动"需要你、</tspan><tspan x="2251" dy="16.3">需要我、需要我们大家共同努力！</tspan></text>
</g>
<g id="b2-i2">
<polygon class="lc" points="2254,1219 2312,1219 2318,1233 2312,1247 2254,1247 2248,1233"/>
<text class="t m tcy" x="2283" y="1237.7">谢谢大家！</text>
</g>

<!-- ===== 篇四 ===== -->
<g id="branch4">
<polygon class="bb" points="1444,1684 1643,1684 1649,1703.5 1643,1723 1444,1723 1438,1703.5"/>
<text class="bt btb" x="1543.5" y="1709.4">篇四：学生爱国卫生演讲稿</text>
</g>
<g id="b4-hub">
<polygon class="lb" points="1677,1446 1776,1446 1782,1460 1776,1474 1677,1474 1671,1460"/>
<text class="t m tb" x="1726.5" y="1464.7">老师们、同学们：</text>
</g>
<g id="b4-j1">
<polygon class="lb" points="1815,1274 1863,1274 1869,1288.5 1863,1303 1815,1303 1809,1288.5"/>
<text class="t m tb" x="1839" y="1293.2">早上好！</text>
</g>
<g id="b4-j2">
<polygon class="lb" points="1815,1329 2061,1329 2067,1351.5 2061,1374 1815,1374 1809,1351.5"/>
<text class="t tb" x="1812" y="1348">今天的国旗下讲话的题目是《爱国卫生、促进<tspan x="1812" dy="16.3">健康》。</tspan></text>
</g>
<g id="b4-j3">
<polygon class="lb" points="1815,1401 2060,1401 2066,1471.5 2060,1542 1815,1542 1809,1471.5"/>
<text class="t tb" x="1812" y="1419.1">草长莺飞四月天，大地春浓焕新颜。四月是个<tspan x="1812" dy="16.3">春暖花开的季节，今年的四月是第28个全国</tspan><tspan x="1812" dy="16.3">爱国卫生活动月。全县将开展"人人动手讲卫</tspan><tspan x="1812" dy="16.3">生，除害防病保健康"的主题活动。对学校来</tspan><tspan x="1812" dy="16.3">说，卫生环境，不仅是学校精神文明建设的窗</tspan><tspan x="1812" dy="16.3">口，也是我们全体师生素质高低的综合反映。</tspan><tspan x="1812" dy="16.3">由于有些同学还存在不良的卫生习惯，经常给</tspan><tspan x="1812" dy="16.3">校园文明带来不良影响。</tspan></text>
</g>
<g id="b4-j4">
<polygon class="lb" points="1815,1569 2060,1569 2066,1631 2060,1693 1815,1693 1809,1631"/>
<text class="t tb" x="1812" y="1586.8">在我们的校园里，常常会看到一些不和谐的音<tspan x="1812" dy="16.3">符。比如：投不中的垃圾被丢弃在垃圾桶外，</tspan><tspan x="1812" dy="16.3">校园操场上、绿化带里、角落里丢弃着食品包</tspan><tspan x="1812" dy="16.3">装，楼梯上不时看见纸屑和果壳，食堂里的饭</tspan><tspan x="1812" dy="16.3">菜遗留在餐桌上，教室里的垃圾熟视无睹，雪</tspan><tspan x="1812" dy="16.3">白的墙壁上被鞋印玷污……这些是我们平中该</tspan><tspan x="1812" dy="16.3">有的景象吗？</tspan></text>
</g>
<g id="b4-mid">
<polygon class="lb" points="1681,1900 1927,1900 1933,1946.5 1927,1993 1681,1993 1675,1946.5"/>
<text class="t tb" x="1678" y="1918.6">因为卫生工作关系到每一个人，所以在日常工<tspan x="1678" dy="16.3">作、学习、生活中我们应该积极主动做好卫生</tspan><tspan x="1678" dy="16.3">工作，保持良好的正确的卫生习惯，促进健康</tspan><tspan x="1678" dy="16.3">成长。如何养成良好的卫生习惯呢，全体同学</tspan><tspan x="1678" dy="16.3">都应该做到以下几点：</tspan></text>
</g>
<g id="b4-k1">
<polygon class="lb" points="1966,1721 2213,1721 2219,1751.5 2213,1782 1966,1782 1960,1751.5"/>
<text class="t tb" x="1963" y="1739.9">1、保持良好的个人卫生习惯，养成饭前便后<tspan x="1963" dy="16.3">要洗手，勤剪指甲，勤洗澡，不随地吐痰的习</tspan><tspan x="1963" dy="16.3">惯。</tspan></text>
</g>
<g id="b4-k2">
<polygon class="lb" points="1966,1808 2213,1808 2219,1838.5 2213,1869 1966,1869 1960,1838.5"/>
<text class="t tb" x="1963" y="1826.9">2、均衡饮食，定期运动，遵守作息时间，做<tspan x="1963" dy="16.3">到起居饮食有规律，随气候变化而增减衣服，</tspan><tspan x="1963" dy="16.3">保持良好的身体素质。</tspan></text>
</g>
<g id="b4-k3">
<polygon class="lb" points="1966,1896 2213,1896 2219,1934.5 2213,1973 1966,1973 1960,1934.5"/>
<text class="t tb" x="1963" y="1914.7">3、要努力克服随手乱丢的坏习惯，养成随手<tspan x="1963" dy="16.3">捡拾地面上废弃物的好习惯。要把废纸、果皮</tspan><tspan x="1963" dy="16.3">、包装袋扔进垃圾桶中，特别要杜绝从楼上往</tspan><tspan x="1963" dy="16.3">楼下扔东西的不道德行为。</tspan></text>
</g>
<g id="b4-k4">
<polygon class="lb" points="1966,2000 2213,2000 2219,2030 2213,2060 1966,2060 1960,2030"/>
<text class="t tb" x="1963" y="2018.4">4、保持地面、黑板、桌椅、窗台的洁净。洗<tspan x="1963" dy="16.3">拖把时，避免把水洒在走廊或溅到墙壁上。卫</tspan><tspan x="1963" dy="16.3">生打扫干净，保洁工作认真对待。</tspan></text>
</g>
<g id="b4-k5">
<polygon class="lb" points="1966,2103 2213,2103 2219,2141.5 2213,2180 1966,2180 1960,2141.5"/>
<text class="t tb" x="1963" y="2121.7">5、保持室内空气流通。随着天气逐渐转热，<tspan x="1963" dy="16.3">教室一定要保持通风状态，让门窗敞开，使空</tspan><tspan x="1963" dy="16.3">气对流，把人体呼出的二氧化碳等气体随着空</tspan><tspan x="1963" dy="16.3">气排到外面去，避免造成室内有异味存在。</tspan></text>
</g>
<g id="b4-l1">
<polygon class="lb" points="2254,2087 2499,2087 2505,2141.5 2499,2196 2254,2196 2248,2141.5"/>
<text class="t tb" x="2251" y="2105.4">同学们，爱国不是口号，而是行动。我们从自<tspan x="2251" dy="16.3">身做起，爱护身边的环境，这就是爱国卫生，</tspan><tspan x="2251" dy="16.3">这就是爱国。美丽的环境需要我们共同营造，</tspan><tspan x="2251" dy="16.3">文明的习惯靠我们平时一点一滴地养成。让我</tspan><tspan x="2251" dy="16.3">们行动起来，借"爱国卫生月"的契机，人人动</tspan><tspan x="2251" dy="16.3">手，为创一个干净、清洁的校园一起努力！</tspan></text>
</g>

<!-- ===== 篇六 ===== -->
<g id="branch6">
<polygon class="bo" points="1444,2518 1643,2518 1649,2537 1643,2556 1444,2556 1438,2537"/>
<text class="bt bto" x="1543.5" y="2542.9">篇六：学生爱国卫生演讲稿</text>
</g>
<g id="b6-hub">
<polygon class="lo" points="1677,2255 1799,2255 1805,2269 1799,2283 1677,2283 1671,2269"/>
<text class="t m to" x="1738" y="2273.7">各位老师，各位同学：</text>
</g>
<g id="b6-m1">
<polygon class="lo" points="1839,2223 1887,2223 1893,2237.5 1887,2252 1839,2252 1833,2237.5"/>
<text class="t m to" x="1863" y="2242.2">早上好！</text>
</g>
<g id="b6-m2">
<polygon class="lo" points="1839,2279 2089,2279 2095,2301 2089,2323 1839,2323 1833,2301"/>
<text class="t to" x="1837" y="2297.5">今天我国旗下讲话的题目是："说说爱国卫生<tspan x="1837" dy="16.3">月"</tspan></text>
</g>
<g id="b6-mid">
<polygon class="lo" points="1681,2727 1927,2727 1933,2805 1927,2883 1681,2883 1675,2805"/>
<text class="t to" x="1678" y="2744.5">同学们，四月是个春暖花开的季节，四月也是<tspan x="1678" dy="16.3">全国爱国卫生月。刚刚过去的4月7日是世界</tspan><tspan x="1678" dy="16.3">卫生日。每年的这一天，世界各地的人们都要</tspan><tspan x="1678" dy="16.3">举行各种纪念活动，来强调健康对于劳动创造</tspan><tspan x="1678" dy="16.3">和幸福生活的重要性。因为卫生工作关系到每</tspan><tspan x="1678" dy="16.3">一个人的生活，所以大家在日常工作、学习、</tspan><tspan x="1678" dy="16.3">生活中积极主动地做好卫生工作，保持良好的</tspan><tspan x="1678" dy="16.3">正确的卫生习惯是非常重要的。下面就跟大家</tspan><tspan x="1678" dy="16.3">讲一讲日常生活中要特别注意的几点：</tspan></text>
</g>
<g id="b6-n1">
<polygon class="lo" points="1966,2350 2213,2350 2219,2380.5 2213,2411 1966,2411 1960,2380.5"/>
<text class="t to" x="1963" y="2368.9">1、养成良好的卫生习惯要经常使用肥皂和清<tspan x="1963" dy="16.3">水洗手，尤其是接触公共物品后先洗手再触摸</tspan><tspan x="1963" dy="16.3">自己的眼睛、鼻子、嘴巴和食物。</tspan></text>
</g>
<g id="b6-n2">
<polygon class="lo" points="1966,2439 2213,2439 2219,2461 2213,2483 1966,2483 1960,2461"/>
<text class="t to" x="1963" y="2457.5">2、咳嗽或打喷嚏时用纸巾遮住口鼻，然后将<tspan x="1963" dy="16.3">纸巾丢进垃圾桶。</tspan></text>
</g>
<g id="b6-n3">
<polygon class="lo" points="1966,2510 2157,2510 2163,2524 2157,2538 1966,2538 1960,2524"/>
<text class="t to" x="1963" y="2528.7">3、尽量少去人流大量聚集的地方。</text>
</g>
<g id="b6-n4">
<polygon class="lo" points="1966,2565 2213,2565 2219,2587 2213,2609 1966,2609 1960,2587"/>
<text class="t to" x="1963" y="2583.5">4、避免接触流感样症状（发热，咳嗽，流涕<tspan x="1963" dy="16.3">等）或肺炎等呼吸道病人。</tspan></text>
</g>
<g id="b6-n5">
<polygon class="lo" points="1966,2636 2213,2636 2219,2666 2213,2696 1966,2696 1960,2666"/>
<text class="t to" x="1963" y="2654.4">5、平时要注意锻炼身体，早睡早起并保证充<tspan x="1963" dy="16.3">足睡眠，摄取足够营养，增强自身对抗各种疾</tspan><tspan x="1963" dy="16.3">病的能力。</tspan></text>
</g>
<g id="b6-n6">
<polygon class="lo" points="1966,2723 2213,2723 2219,2761.5 2213,2800 1966,2800 1960,2761.5"/>
<text class="t to" x="1963" y="2741.7">6、保持良好的个人卫生习惯要注意饮食卫生<tspan x="1963" dy="16.3">，尤其不要在路边小摊随便购买食品，因为路</tspan><tspan x="1963" dy="16.3">边摊是不卫生的，各种尘埃、苍蝇、不干净的</tspan><tspan x="1963" dy="16.3">食品用具等都隐藏着很多有害细菌。</tspan></text>
</g>
<g id="b6-n7">
<polygon class="lo" points="1966,2828 2213,2828 2219,2866 2213,2904 1966,2904 1960,2866"/>
<text class="t to" x="1963" y="2846.2">7、在个人卫生习惯中，还要养成饭前便后要<tspan x="1963" dy="16.3">洗手，勤剪指甲，勤洗澡，不随便使用别人的</tspan><tspan x="1963" dy="16.3">生活用品，如毛巾、衣服、拖鞋、餐具等。遵</tspan><tspan x="1963" dy="16.3">守作息时间，做到起居有规律。</tspan></text>
</g>
<g id="b6-n8">
<polygon class="lo" points="1966,2931 2213,2931 2219,3009.5 2213,3088 1966,3088 1960,3009.5"/>
<text class="t to" x="1963" y="2949">8、均衡饮食，随气候变化而增减衣服，定期<tspan x="1963" dy="16.3">运动，充足休息。在日常生活中同学们应该按</tspan><tspan x="1963" dy="16.3">照生活规律，三餐做到定时定量，不暴饮暴食</tspan><tspan x="1963" dy="16.3">，特别是必须要吃早餐，不吃早饭对身体健康</tspan><tspan x="1963" dy="16.3">和学习精力都是不利的而且容易导致胆结石等</tspan><tspan x="1963" dy="16.3">疾病。另外随着天气变化而适当增减衣服，不</tspan><tspan x="1963" dy="16.3">要着凉，俗话说春捂秋冬，医务室发现最近很</tspan><tspan x="1963" dy="16.3">多身体不舒服的同学就是因为衣服穿得太少造</tspan><tspan x="1963" dy="16.3">成的。</tspan></text>
</g>
<g id="b6-n9">
<polygon class="lo" points="1966,3166 2213,3166 2219,3228.5 2213,3291 1966,3291 1960,3228.5"/>
<text class="t to" x="1963" y="3184.2">9、保持室内空气流通，随着天气逐渐转热，<tspan x="1963" dy="16.3">教室一定要保持通风状态，让门窗敞开，使空</tspan><tspan x="1963" dy="16.3">气对流，避免造成室内有异味存在。我们平时</tspan><tspan x="1963" dy="16.3">发现绝大部分教室都是门窗紧闭，这不仅对健</tspan><tspan x="1963" dy="16.3">康不利还影响大家的大脑思考能力。希望从今</tspan><tspan x="1963" dy="16.3">天起能看到每个教室的门窗都是保持在通风状</tspan><tspan x="1963" dy="16.3">态。</tspan></text>
</g>
<g id="b6-o1">
<polygon class="lo" points="2254,3116 2499,3116 2505,3170 2499,3224 2254,3224 2248,3170"/>
<text class="t to" x="2251" y="3133.9">特别要提醒大家的是，一旦发现传染病要立即<tspan x="2251" dy="16.3">隔离送医院就诊并报告学校，班级内感冒发烧</tspan><tspan x="2251" dy="16.3">超过5人务必要报告学校医务室，并在医务室</tspan><tspan x="2251" dy="16.3">的指导下实施防御措施。同学一旦觉得身体不</tspan><tspan x="2251" dy="16.3">适也要及时告知老师和家长，及时就诊，不要</tspan><tspan x="2251" dy="16.3">延误病情。</tspan></text>
</g>
<g id="b6-o2">
<polygon class="lo" points="2254,3251 2499,3251 2505,3289.5 2499,3328 2254,3328 2248,3289.5"/>
<text class="t to" x="2251" y="3269.7">同学们，美丽的环境需要我们共同营造，文明<tspan x="2251" dy="16.3">的习惯靠我们平时一点一滴地养成。让我们行</tspan><tspan x="2251" dy="16.3">动起来，借"爱国卫生月"的契机，为创造一个</tspan><tspan x="2251" dy="16.3">美丽、清洁、健康的校园一起努力！</tspan></text>
</g>
</svg>
